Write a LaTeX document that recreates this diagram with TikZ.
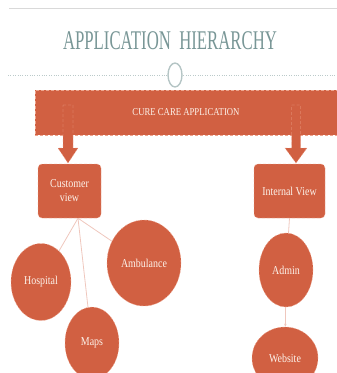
\documentclass[tikz,border=0pt]{standalone}
\usepackage{fontspec}
\setmainfont{Liberation Serif}
\newfontfamily\headfont[FakeStretch=0.62]{Liberation Serif}
\newfontfamily\tagfont[FakeStretch=0.83]{Liberation Serif}
\usetikzlibrary{shapes.geometric,arrows.meta}
\definecolor{brick}{RGB}{209,96,66}
\definecolor{brickline}{RGB}{238,165,142}
\definecolor{slate}{RGB}{120,150,150}
\definecolor{cream}{RGB}{252,242,234}

\begin{document}
\begin{tikzpicture}[x=1pt,y=-1pt,
  box/.style={rectangle,rounded corners=4pt,draw=brickline,densely dashed,fill=brick,
    text=cream,font=\tagfont\fontsize{12}{14}\selectfont,align=center},
  bubble/.style={ellipse,draw=brickline,densely dashed,fill=brick,text=cream,
    font=\tagfont\fontsize{12}{14}\selectfont,inner sep=0pt},
  fatarrow/.style={draw=brickline,densely dashed,fill=brick},
  link/.style={draw=brick!35,line width=0.8pt}]
\useasboundingbox (0,0) rectangle (337,373);
% title
\draw[gray!30,line width=1pt] (9,8) -- (337,8);
\node (title) at (170,41) [text=slate,font=\headfont\fontsize{27}{29}\selectfont] {APPLICATION\ \ HIERARCHY};
\draw[slate!50,dotted] (8,75) -- (337,75);
\node (ring) at (175,75) [ellipse,draw=slate!55,line width=1.4pt,fill=white,minimum width=14,minimum height=24] {};
% main bar
\node (app) at (186,112.5) [box,rounded corners=0pt,minimum width=302,minimum height=45,
  font=\tagfont\fontsize{10.5}{12}\selectfont] {CURE CARE APPLICATION};
% views
\node (cust) at (69.5,191) [box,minimum width=63,minimum height=54] {Customer\\view};
\node (intv) at (289.5,191) [box,minimum width=71,minimum height=54] {Internal View};
\draw[fatarrow,shift={(68,163)}] (-5,-58) -- (5,-58) -- (5,-15) -- (10,-15) -- (0,0) -- (-10,-15) -- (-5,-15) -- cycle;
\draw[fatarrow,shift={(296,163)}] (-4.5,-58) -- (4.5,-58) -- (4.5,-15) -- (11,-15) -- (0,0) -- (-11,-15) -- (-4.5,-15) -- cycle;
% leaves
\node (hosp) at (41,282) [bubble,minimum width=60,minimum height=77] {Hospital};
\node (amb) at (144,263) [bubble,minimum width=74,minimum height=86] {Ambulance};
\node (maps) at (92,343) [bubble,minimum width=54,minimum height=72] {Maps};
\node (admin) at (286,270) [bubble,minimum width=54,minimum height=74] {Admin};
\node (web) at (285,358) [bubble,minimum width=66,minimum height=62] {Website};
\coordinate (fork) at ([xshift=8.5pt]cust.south);
\draw[link] (fork) -- (hosp);
\draw[link] (fork) -- (maps);
\draw[link] (fork) -- (amb);
\draw[link] (intv.south) -- (admin);
\draw[link,-{Stealth[length=3pt,width=2.5pt]}] (admin) -- (web);
\end{tikzpicture}
\end{document}
